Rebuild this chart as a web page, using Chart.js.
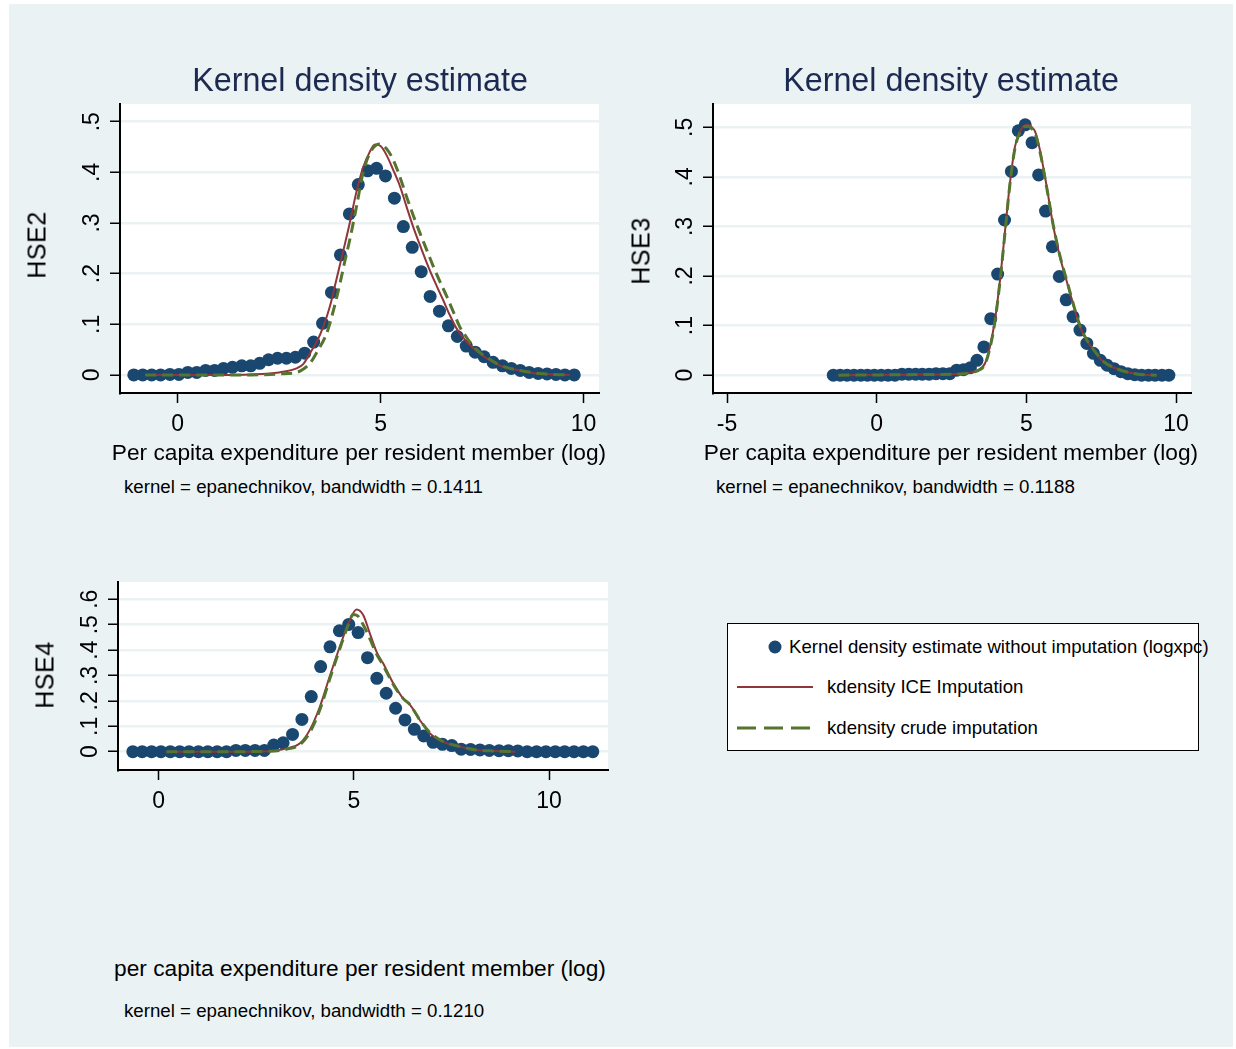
<!DOCTYPE html>
<html>
<head>
<meta charset="utf-8">
<title>Kernel density estimate</title>
<script src="https://cdn.jsdelivr.net/npm/chart.js@4.4.1/dist/chart.umd.min.js"></script>
<style>
  body { margin:0; background:#fff; width:1236px; height:1049px; position:relative; overflow:hidden;
         font-family:'Liberation Sans', Arial, sans-serif; }
  #bg { position:absolute; left:9px; top:4px; width:1224px; height:1043px; background:#eaf2f3; }
  canvas { position:absolute; }
  .txt { position:absolute; white-space:nowrap; line-height:1; color:#000; }
  .ctr { transform:translate(-50%,-50%); }
  .lft { transform:translateY(-50%); }
  .rot { transform:translate(-50%,-50%) rotate(-90deg); }
  .title { font-size:32.3px; color:#1c2a52; }
  .xtitle { font-size:22.7px; }
  .note { font-size:18.7px; }
  .ytitle { font-size:25px; letter-spacing:0.5px; }
  #legend { position:absolute; left:727px; top:623px; width:470px; height:126px; border:1.5px solid #000; background:#fff; }
  #legend .txt { font-size:18.6px; }
  #legend svg { position:absolute; }
</style>
</head>
<body>
<div id="bg"></div>

<canvas id="hse2" width="559" height="359" style="left:50px;top:94px"></canvas>
<canvas id="hse3" width="558" height="359" style="left:643px;top:94px"></canvas>
<canvas id="hse4" width="570" height="258" style="left:48px;top:572px"></canvas>

<div class="txt ctr title" style="left:360px;top:80px">Kernel density estimate</div>
<div class="txt ctr title" style="left:951px;top:80px">Kernel density estimate</div>

<div class="txt rot ytitle" style="left:37px;top:245px">HSE2</div>
<div class="txt rot ytitle" style="left:641px;top:251px">HSE3</div>
<div class="txt rot ytitle" style="left:45px;top:675px">HSE4</div>

<div class="txt ctr xtitle" style="left:359px;top:452px">Per capita expenditure per resident member (log)</div>
<div class="txt ctr xtitle" style="left:951px;top:452px">Per capita expenditure per resident member (log)</div>
<div class="txt ctr xtitle" style="left:360px;top:968px">per capita expenditure per resident member (log)</div>

<div class="txt lft note" style="left:124px;top:487px">kernel = epanechnikov, bandwidth = 0.1411</div>
<div class="txt lft note" style="left:716px;top:487px">kernel = epanechnikov, bandwidth = 0.1188</div>
<div class="txt lft note" style="left:124px;top:1011px">kernel = epanechnikov, bandwidth = 0.1210</div>

<div id="legend">
  <svg style="left:39px;top:15px" width="16" height="16"><circle cx="8" cy="8" r="6.5" fill="#1a476f"/></svg>
  <div class="txt lft" style="left:61px;top:23px">Kernel density estimate without imputation (logxpc)</div>
  <svg style="left:8px;top:58px" width="78" height="10"><line x1="1" y1="5" x2="77" y2="5" stroke="#90353b" stroke-width="2"/></svg>
  <div class="txt lft" style="left:99px;top:63px">kdensity ICE Imputation</div>
  <svg style="left:8px;top:99px" width="78" height="10"><line x1="1" y1="5" x2="77" y2="5" stroke="#55752f" stroke-width="3" stroke-dasharray="19 8"/></svg>
  <div class="txt lft" style="left:99px;top:104px">kdensity crude imputation</div>
</div>

<script>
// HSE2
const hse2DotX = [-1.08,-0.86,-0.64,-0.42,-0.19,0.03,0.25,0.47,0.69,0.91,1.13,1.35,1.58,1.80,2.02,2.24,2.46,2.68,2.90,3.13,
  3.35,3.57,3.79,4.01,4.23,4.45,4.68,4.90,5.12,5.34,5.56,5.78,6.00,6.22,6.45,6.67,6.89,7.11,7.33,7.55,
  7.77,8.00,8.22,8.44,8.66,8.88,9.10,9.32,9.54,9.77];
const hse2DotY = [0,0,0,0,0.001,0.001,0.005,0.005,0.009,0.009,0.013,0.015,0.018,0.018,0.023,0.030,0.033,0.033,0.035,0.043,
  0.065,0.102,0.163,0.237,0.318,0.376,0.403,0.408,0.393,0.349,0.293,0.252,0.204,0.155,0.126,0.097,0.076,0.057,0.045,0.036,
  0.025,0.018,0.013,0.009,0.005,0.003,0.002,0.001,0,0];
const hse2IceX = [-0.80,1.0,1.8,2.5,2.93,3.1,3.26,3.43,3.59,3.75,3.91,4.08,4.24,4.40,4.57,4.73,4.86,5.0,5.14,5.31,
  5.48,5.64,5.80,6.0,6.21,6.38,6.54,6.70,6.87,7.03,7.2,7.4,7.61,7.8,8.02,8.43,8.84,9.25,9.66];
const hse2IceY = [0,0,0.001,0.005,0.013,0.022,0.043,0.066,0.096,0.135,0.188,0.245,0.30,0.36,0.41,0.44,0.455,0.452,0.435,0.405,
  0.372,0.332,0.293,0.25,0.207,0.176,0.148,0.119,0.092,0.074,0.059,0.045,0.033,0.024,0.016,0.009,0.003,0.001,0];
const hse2CrudeX = [-0.80,1.0,1.8,2.5,2.93,3.1,3.26,3.43,3.67,3.83,4.0,4.12,4.24,4.40,4.57,4.75,4.97,5.14,5.31,5.48,
  5.64,5.80,5.97,6.14,6.30,6.47,6.63,6.79,6.95,7.12,7.28,7.48,7.69,7.9,8.1,8.5,8.9,9.3,9.66];
const hse2CrudeY = [0,0,0,0.002,0.005,0.012,0.023,0.045,0.082,0.125,0.181,0.225,0.267,0.33,0.40,0.44,0.456,0.447,0.425,0.39,
  0.352,0.316,0.28,0.246,0.214,0.183,0.155,0.125,0.095,0.074,0.057,0.042,0.031,0.021,0.015,0.008,0.003,0.001,0];

// HSE3
const hse3DotX = [-1.45,-1.22,-0.99,-0.76,-0.53,-0.31,-0.08,0.15,0.38,0.61,0.84,1.07,1.30,1.52,1.75,1.98,2.21,2.44,2.67,2.90,
  3.13,3.35,3.58,3.81,4.04,4.27,4.50,4.73,4.96,5.19,5.41,5.64,5.87,6.10,6.33,6.56,6.79,7.02,7.24,7.47,
  7.70,7.93,8.16,8.39,8.62,8.85,9.08,9.30,9.53,9.76];
const hse3DotY = [0,0,0,0,0,0,0,0,0,0,0.002,0.002,0.002,0.002,0.002,0.003,0.003,0.003,0.010,0.011,
  0.015,0.030,0.057,0.114,0.204,0.313,0.411,0.493,0.505,0.469,0.404,0.331,0.259,0.199,0.152,0.118,0.091,0.064,0.044,0.030,
  0.020,0.013,0.007,0.003,0.001,0,0,0,0,0];
const hse3IceX = [-1.28,1.0,2.5,2.89,3.34,3.62,3.78,3.95,4.12,4.29,4.45,4.62,4.79,4.92,5.06,5.18,5.29,5.45,5.68,5.90,
  6.12,6.35,6.57,6.79,7.01,7.24,7.57,8.02,8.46,8.9,9.35];
const hse3IceY = [0,0.001,0.002,0.003,0.009,0.024,0.057,0.111,0.192,0.293,0.387,0.461,0.492,0.503,0.505,0.500,0.492,0.455,0.380,0.300,
  0.239,0.189,0.141,0.098,0.071,0.051,0.027,0.013,0.005,0.001,0];
const hse3CrudeX = [-1.28,1.0,2.5,2.89,3.34,3.62,3.78,3.95,4.12,4.29,4.45,4.62,4.79,4.92,5.06,5.18,5.29,5.45,5.68,5.90,
  6.12,6.35,6.57,6.79,7.01,7.24,7.57,8.02,8.46,8.9,9.35];
const hse3CrudeY = [0,0.001,0.002,0.003,0.008,0.022,0.054,0.108,0.190,0.290,0.385,0.458,0.490,0.501,0.502,0.497,0.488,0.452,0.378,0.302,
  0.241,0.191,0.143,0.100,0.072,0.052,0.028,0.013,0.005,0.001,0];

// HSE4
const hse4DotX = [-0.66,-0.42,-0.18,0.06,0.30,0.54,0.78,1.02,1.26,1.50,1.74,1.98,2.22,2.47,2.71,2.95,3.19,3.43,3.67,3.91,
  4.15,4.39,4.63,4.87,5.11,5.35,5.59,5.83,6.07,6.31,6.55,6.79,7.03,7.27,7.51,7.75,7.99,8.23,8.47,8.72,
  8.96,9.20,9.44,9.68,9.92,10.16,10.40,10.64,10.88,11.12];
const hse4DotY = [0,0,0,0,0,0,0,0,0,0,0,0.005,0.005,0.005,0.005,0.026,0.035,0.068,0.127,0.217,
  0.335,0.413,0.476,0.501,0.469,0.370,0.289,0.230,0.171,0.125,0.088,0.062,0.037,0.029,0.024,0.010,0.009,0.007,0.005,0.004,
  0.004,0.003,0,0,0,0,0,0,0,0];
const hse4IceX = [0.20,1.5,2.85,3.27,3.62,3.87,4.13,4.38,4.64,4.86,5.07,5.24,5.41,5.58,5.75,6.01,6.26,6.44,6.69,6.95,
  7.29,7.72,8.14,8.6,9.13];
const hse4IceY = [0,0,0.002,0.013,0.033,0.085,0.177,0.295,0.413,0.505,0.56,0.538,0.466,0.394,0.348,0.269,0.21,0.184,0.125,0.072,
  0.039,0.020,0.007,0.003,0];
const hse4CrudeX = [0.20,1.5,2.85,3.27,3.62,3.87,4.13,4.38,4.64,4.86,4.98,5.10,5.24,5.41,5.58,5.75,6.01,6.26,6.44,6.69,
  6.95,7.29,7.72,8.14,8.6,9.13];
const hse4CrudeY = [0,0,0.002,0.010,0.028,0.075,0.165,0.285,0.405,0.50,0.54,0.535,0.50,0.445,0.385,0.34,0.265,0.21,0.185,0.125,
  0.075,0.04,0.02,0.007,0.003,0];

// ticks
const hse2XTicks = [0, 5, 10];
const hse3XTicks = [-5, 0, 5, 10];
const hse4XTicks = [0, 5, 10];
const yTicksTo5 = [0, 0.1, 0.2, 0.3, 0.4, 0.5];
const yLabelsTo5 = ['0', '.1', '.2', '.3', '.4', '.5'];
const yTicksTo6 = [0, 0.1, 0.2, 0.3, 0.4, 0.5, 0.6];
const yLabelsTo6 = ['0', '.1', '.2', '.3', '.4', '.5', '.6'];

function zip(xs, ys) {
  return xs.map((x, i) => ({ x: x, y: ys[i] }));
}

// white plot region
const plotBg = {
  id: 'plotBg',
  beforeDraw(chart) {
    const a = chart.chartArea;
    chart.ctx.save();
    chart.ctx.fillStyle = '#fff';
    chart.ctx.fillRect(a.left, a.top, a.right - a.left, a.bottom - a.top);
    chart.ctx.restore();
  }
};

// stata style labels: x centred below, y turned on its side
const tickText = {
  id: 'tickText',
  afterDraw(chart, args, opts) {
    const ctx = chart.ctx, a = chart.chartArea;
    const xs = chart.scales.x, ys = chart.scales.y;
    ctx.save();
    ctx.fillStyle = '#000';
    ctx.font = '23px "Liberation Sans", Arial, sans-serif';
    ctx.textAlign = 'center';
    ctx.textBaseline = 'middle';
    opts.xTicks.forEach(v => ctx.fillText(String(v), xs.getPixelForValue(v), a.bottom + 32));
    opts.yTicks.forEach((v, i) => {
      ctx.save();
      ctx.translate(a.left - 28, ys.getPixelForValue(v));
      ctx.rotate(-Math.PI / 2);
      ctx.fillText(opts.yLabels[i], 0, 1);
      ctx.restore();
    });
    ctx.restore();
  }
};

function makeChart(id, dots, ice, crude, xMin, xMax, yMin, yMax, xTicks, yTicks, yLabels) {
  new Chart(document.getElementById(id), {
    type: 'scatter',
    data: {
      datasets: [
        { label: 'Kernel density estimate without imputation (logxpc)', data: dots, order: 3,
          showLine: false, pointRadius: 6.5, pointBorderWidth: 0, backgroundColor: '#1a476f', borderColor: '#1a476f' },
        { label: 'kdensity ICE Imputation', data: ice, order: 2,
          showLine: true, pointRadius: 0, borderWidth: 2, borderColor: '#90353b', cubicInterpolationMode: 'monotone' },
        { label: 'kdensity crude imputation', data: crude, order: 1,
          showLine: true, pointRadius: 0, borderWidth: 3, borderColor: '#55752f', borderDash: [11, 6], cubicInterpolationMode: 'monotone' }
      ]
    },
    options: {
      responsive: false,
      animation: false,
      devicePixelRatio: 1,
      layout: { padding: { left: 60, top: 10, right: 10, bottom: 50 } },
      plugins: {
        legend: { display: false },
        tooltip: { enabled: false },
        tickText: { xTicks: xTicks, yTicks: yTicks, yLabels: yLabels }
      },
      scales: {
        x: {
          type: 'linear', min: xMin, max: xMax,
          afterBuildTicks: s => { s.ticks = xTicks.map(v => ({ value: v })); },
          ticks: { display: false },
          grid: { display: true, drawOnChartArea: false, drawTicks: true, tickLength: 10, tickColor: '#000', tickWidth: 1.5 },
          border: { display: true, color: '#000', width: 2 }
        },
        y: {
          type: 'linear', min: yMin, max: yMax,
          afterBuildTicks: s => { s.ticks = yTicks.map(v => ({ value: v })); },
          ticks: { display: false },
          grid: { color: '#eaf2f3', lineWidth: 2.5, drawTicks: true, tickLength: 10, tickColor: '#000', tickWidth: 1.5 },
          border: { display: true, color: '#000', width: 2 }
        }
      }
    },
    plugins: [plotBg, tickText]
  });
}

makeChart('hse2', zip(hse2DotX, hse2DotY), zip(hse2IceX, hse2IceY), zip(hse2CrudeX, hse2CrudeY),
  -1.42, 10.38, -0.0356, 0.535, hse2XTicks, yTicksTo5, yLabelsTo5);
makeChart('hse3', zip(hse3DotX, hse3DotY), zip(hse3IceX, hse3IceY), zip(hse3CrudeX, hse3CrudeY),
  -5.47, 10.5, -0.036, 0.547, hse3XTicks, yTicksTo5, yLabelsTo5);
makeChart('hse4', zip(hse4DotX, hse4DotY), zip(hse4IceX, hse4IceY), zip(hse4CrudeX, hse4CrudeY),
  -1.04, 11.51, -0.072, 0.668, hse4XTicks, yTicksTo6, yLabelsTo6);
</script>
</body>
</html>
